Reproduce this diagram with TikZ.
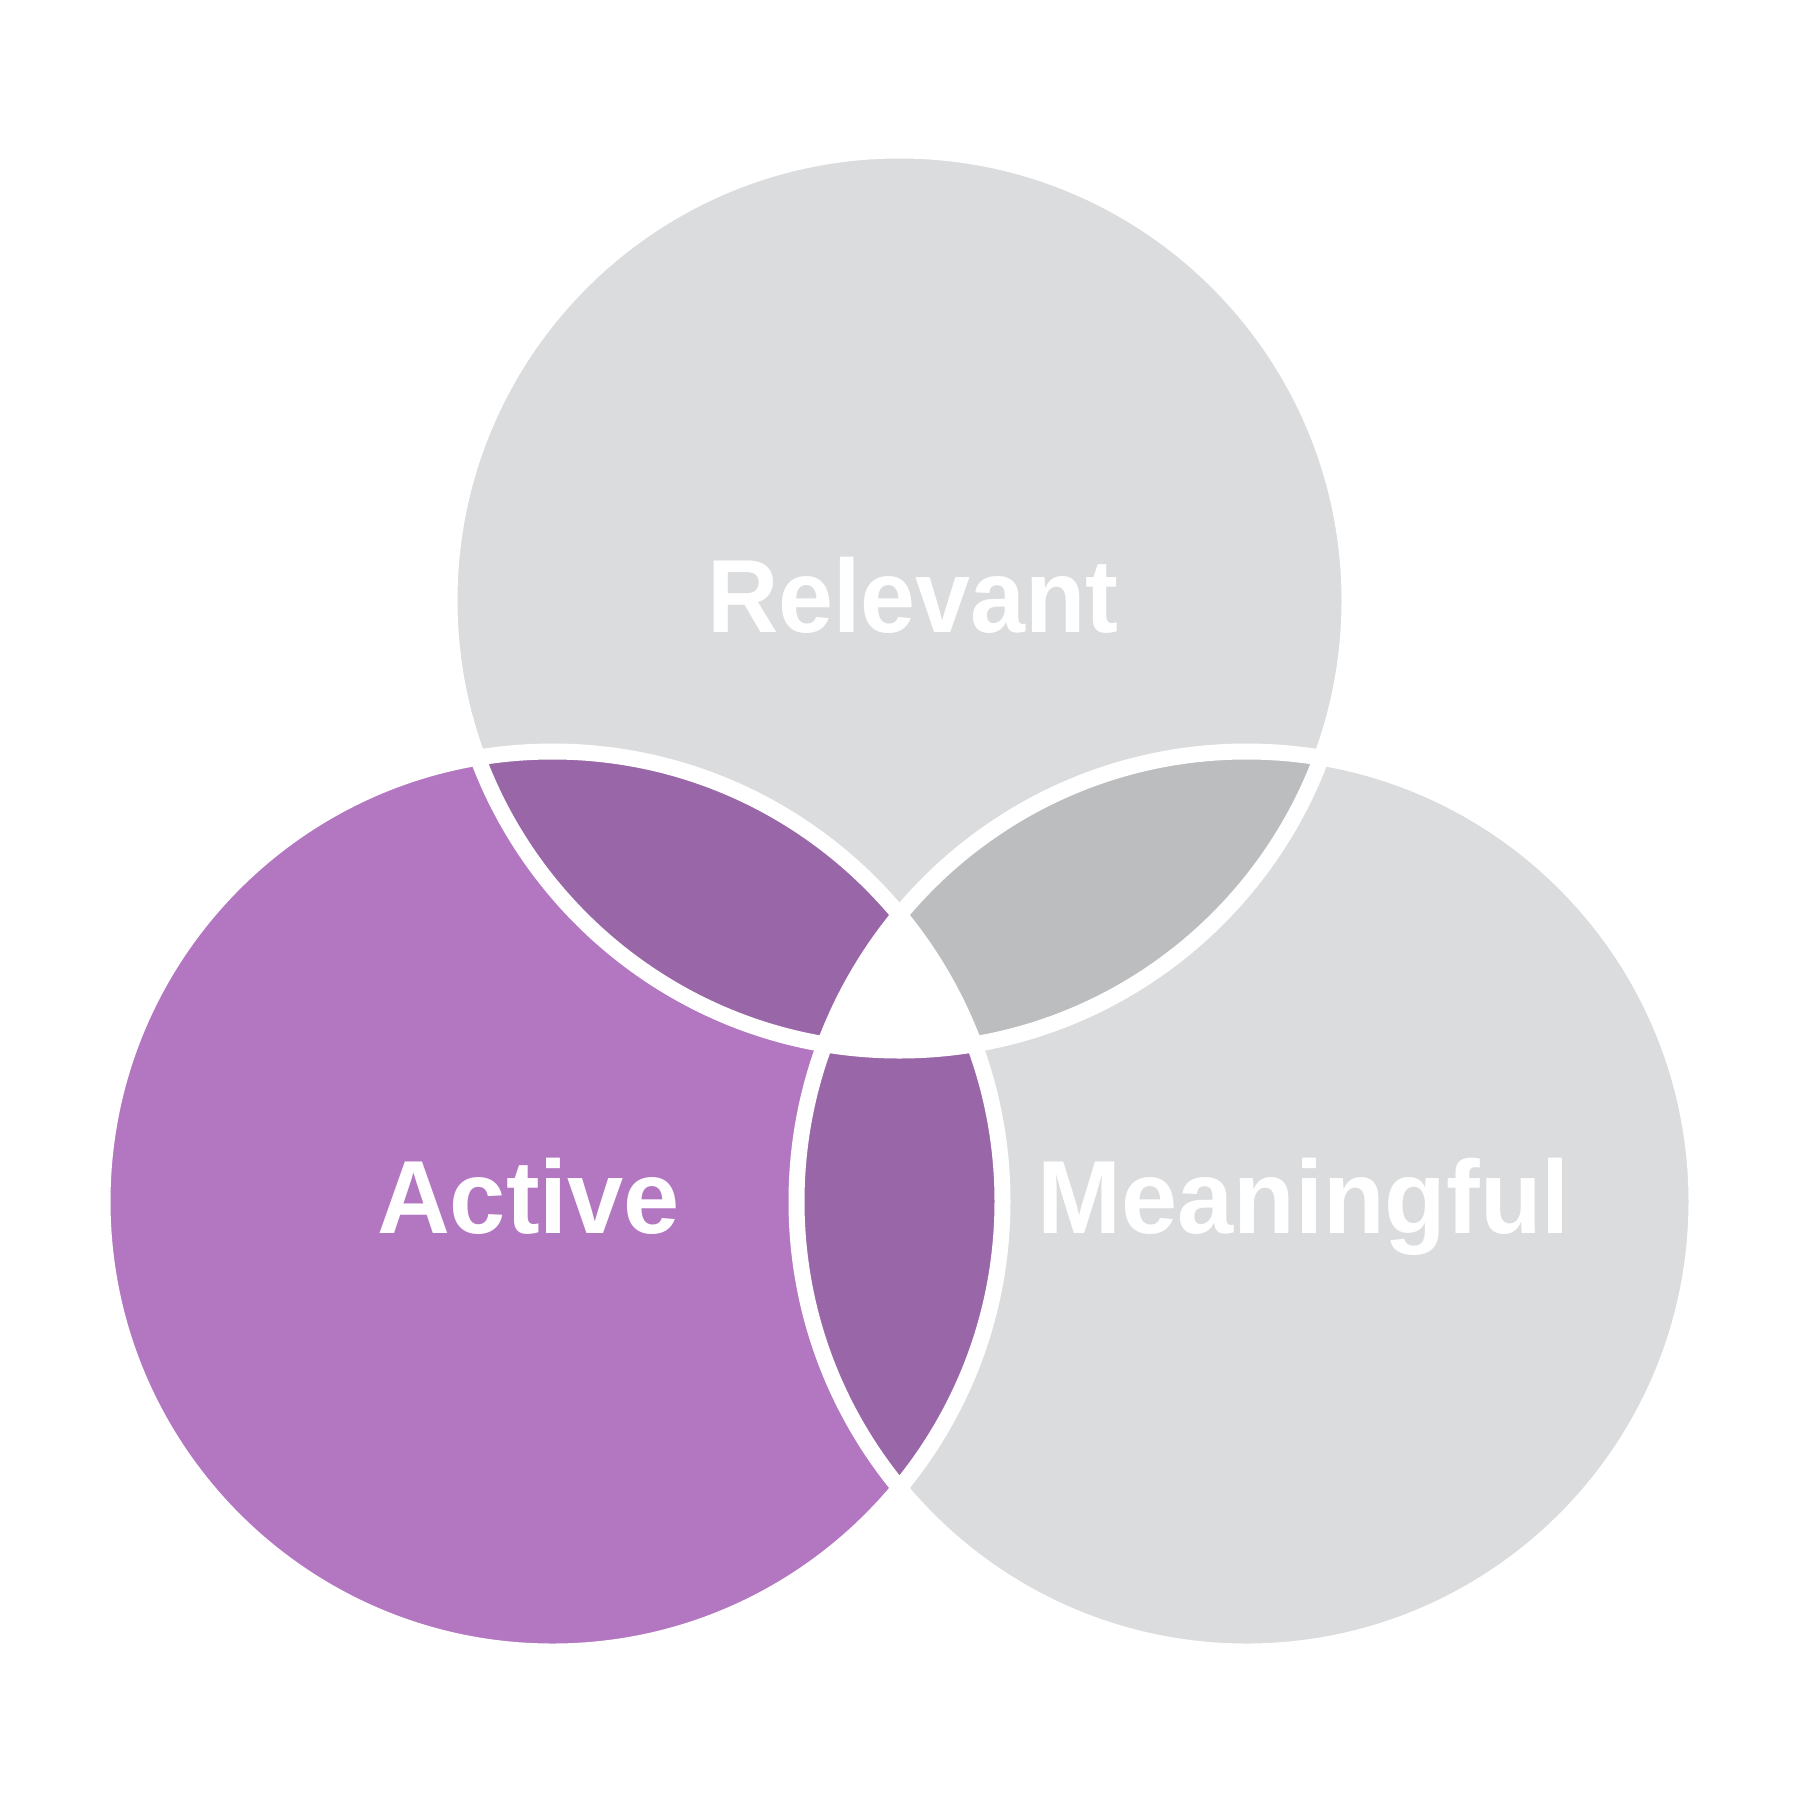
\documentclass[tikz,border=0pt]{standalone}
\usepackage{fontspec}
\setmainfont{Liberation Sans}
\definecolor{lgray}{HTML}{DBDCDE}
\definecolor{dgray}{HTML}{BCBDBF}
\definecolor{lpurple}{HTML}{B377C2}
\definecolor{dpurple}{HTML}{9966A8}
\begin{document}
\begin{tikzpicture}[x=1pt,y=-1pt,
  lbl/.style={text=white,font=\fontsize{104}{110}\selectfont\bfseries,inner sep=0pt,anchor=base},
  ring/.style={draw=white,line width=16pt}]
\useasboundingbox (0,0) rectangle (1800,1800);
\coordinate (T) at (899.5,600.5);
\coordinate (L) at (552.5,1201.5);
\coordinate (R) at (1246.5,1201.5);
\def\rad{450pt}
\fill[lgray] (T) circle[radius=\rad];
\fill[lpurple] (L) circle[radius=\rad];
\fill[lgray] (R) circle[radius=\rad];
\begin{scope}
  \clip (T) circle[radius=\rad];
  \fill[dpurple] (L) circle[radius=\rad];
  \fill[dgray] (R) circle[radius=\rad];
  \clip (L) circle[radius=\rad];
  \fill[white] (R) circle[radius=\rad];
\end{scope}
\begin{scope}
  \clip (L) circle[radius=\rad];
  \fill[dpurple] (R) circle[radius=\rad];
  \clip (T) circle[radius=\rad];
  \fill[white] (R) circle[radius=\rad];
\end{scope}
\draw[ring] (T) circle[radius=\rad];
\draw[ring] (L) circle[radius=\rad];
\draw[ring] (R) circle[radius=\rad];
\node[lbl] (relevant) at (913,632.5) {\scalebox{0.95}[1]{Relevant}};
\node[lbl] (active) at (528.5,1233) {\scalebox{0.97}[1]{Active}};
\node[lbl] (meaningful) at (1303.6,1233) {\scalebox{0.97}[1]{Meaningful}};
\end{tikzpicture}
\end{document}
